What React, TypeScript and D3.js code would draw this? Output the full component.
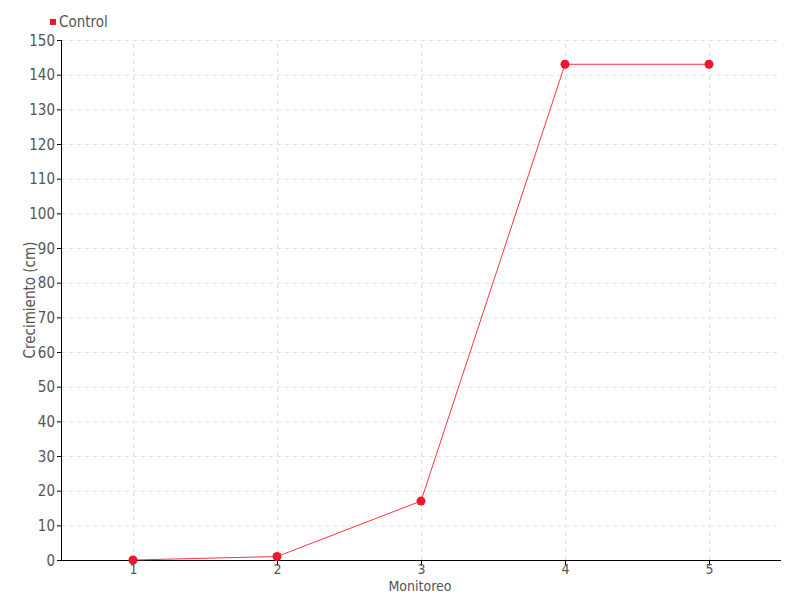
import React from "react";
import * as d3 from "d3";

const monitoreo = [1, 2, 3, 4, 5];
const control = [0, 1, 17, 143, 143];
const yTicks = [0, 10, 20, 30, 40, 50, 60, 70, 80, 90, 100, 110, 120, 130, 140, 150];
const seriesName = "Control";

const W = 800;
const H = 600;
const FONT = "'Liberation Sans Narrow', 'DejaVu Sans Condensed', 'DejaVu Sans', sans-serif";
const TEXT = "#555";

const App: React.FC = () => {
  const x = d3.scaleLinear().domain([0.5, 5.5]).range([61, 781]);
  const y = d3.scaleLinear().domain([0, 150]).range([560, 40]);

  const line = d3
    .line<number>()
    .x((_, i) => x(monitoreo[i]))
    .y((d) => y(d));

  return (
    <svg
      width={W}
      height={H}
      style={{ position: "absolute", left: 0, top: 0, background: "#fff" }}
      fontFamily={FONT}
    >
      {/* grid */}
      <g stroke="#e0e0e0" strokeDasharray="4,4" strokeWidth={1}>
        {yTicks.map((t) => (
          <line key={"gy" + t} x1={x(0.5)} x2={x(5.5)} y1={y(t) + 0.5} y2={y(t) + 0.5} />
        ))}
        {monitoreo.map((m) => (
          <line key={"gx" + m} x1={x(m) + 0.5} x2={x(m) + 0.5} y1={y(0)} y2={y(150)} />
        ))}
      </g>

      {/* y axis */}
      <g>
        <line x1={61.5} x2={61.5} y1={y(150)} y2={y(0)} stroke="#000" />
        {yTicks.map((t) => (
          <g key={"ty" + t} transform={`translate(0,${y(t) + 0.5})`}>
            <line x1={57} x2={61.5} stroke="#000" />
            <text x={55} dy="0.35em" textAnchor="end" fontSize={15} fill={TEXT}>
              {t}
            </text>
          </g>
        ))}
      </g>

      {/* x axis */}
      <g>
        <line x1={61} x2={781} y1={560.5} y2={560.5} stroke="#000" />
        {monitoreo.map((m) => (
          <g key={"tx" + m} transform={`translate(${x(m) + 0.5},560.5)`}>
            <line y1={0} y2={5} stroke="#000" />
            <text y={13} textAnchor="middle" fontSize={14} fill={TEXT}>
              {m}
            </text>
          </g>
        ))}
      </g>

      {/* axis titles */}
      <text x={420} y={591} textAnchor="middle" fontSize={14} fill={TEXT}>
        Monitoreo
      </text>
      <text
        transform="translate(35,300) rotate(-90)"
        textAnchor="middle"
        fontSize={15}
        fill={TEXT}
      >
        Crecimiento (cm)
      </text>

      {/* series */}
      <path d={line(control) ?? ""} fill="none" stroke="#ff3347" strokeWidth={1} />
      {control.map((v, i) => (
        <circle key={"c" + i} cx={x(monitoreo[i])} cy={y(v)} r={4.5} fill="#e8192c" />
      ))}

      {/* legend */}
      <rect x={50} y={19} width={6} height={6} fill="#e8192c" />
      <text x={59} y={27} fontSize={15} fill={TEXT}>
        {seriesName}
      </text>
    </svg>
  );
};

export default App;
